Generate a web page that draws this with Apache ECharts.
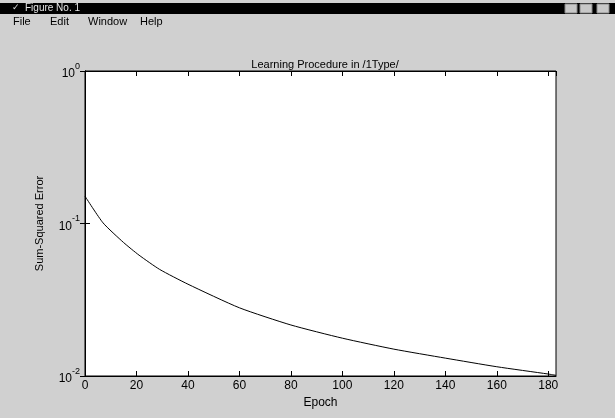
<!DOCTYPE html>
<html>
<head>
<meta charset="utf-8">
<script src="https://cdn.jsdelivr.net/npm/echarts@6/dist/echarts.min.js"></script>
<style>
  html, body { margin: 0; padding: 0; background: #d0d0d0; }
  #main { width: 615px; height: 418px; }
</style>
</head>
<body>
<div id="main"></div>
<script>
// values
var epochs = [0, 7, 15, 21, 29, 40, 60, 80, 100, 120, 140, 160, 180, 183];
var sse = [0.151, 0.101, 0.075, 0.062, 0.050, 0.040, 0.028, 0.0216, 0.0177, 0.0150, 0.0131, 0.0115, 0.0103, 0.0101];
var xTicks = [0, 20, 40, 60, 80, 100, 120, 140, 160, 180];
var menuItems = ['File', 'Edit', 'Window', 'Help'];

var font = 'Liberation Sans';
var points = epochs.map(function (e, i) { return [e, sse[i]]; });

var chart = echarts.init(document.getElementById('main'));

// window chrome (title bar + menu)
var chrome = [
  { type: 'rect', shape: { x: 0, y: 3, width: 615, height: 11 }, style: { fill: '#000' } },
  { type: 'text', left: 12, top: 3, style: { text: '\u2713', fill: '#ddd', font: '9px ' + font } },
  { type: 'text', left: 25, top: 3, style: { text: 'Figure No. 1', fill: '#e6e6e6', font: '10px ' + font } }
];
[565, 580, 597].forEach(function (bx) {
  chrome.push({ type: 'rect', shape: { x: bx, y: 4, width: 12, height: 9 }, style: { fill: '#c8c8c8', stroke: '#888', lineWidth: 1 } });
});
var menuX = [13, 50, 88, 140];
menuItems.forEach(function (m, i) {
  chrome.push({ type: 'text', left: menuX[i], top: 16, style: { text: m, fill: '#000', font: '11px ' + font } });
});

chart.setOption({
  backgroundColor: '#d0d0d0',
  animation: false,
  title: {
    text: 'Learning Procedure in /1Type/',
    left: 320, top: 54, textAlign: 'center',
    textStyle: { fontFamily: font, fontSize: 11, fontWeight: 'normal', color: '#000' }
  },
  graphic: chrome,
  grid: { left: 85, right: 59, top: 71, bottom: 42, show: true, backgroundColor: '#fff', borderColor: '#000', borderWidth: 1 },
  xAxis: [{
    type: 'value', min: 0, max: 183, interval: 20,
    name: 'Epoch', nameLocation: 'middle', nameGap: 18,
    nameTextStyle: { fontFamily: font, fontSize: 12, color: '#000' },
    axisLine: { lineStyle: { color: '#000' } },
    axisTick: { inside: true, length: 5, lineStyle: { color: '#000' } },
    axisLabel: { showMaxLabel: false, margin: 4, fontFamily: font, fontSize: 12, color: '#000' },
    splitLine: { show: false }
  }, {
    type: 'value', min: 0, max: 183, interval: 20, position: 'top',
    axisLine: { lineStyle: { color: '#000' } },
    axisTick: { inside: true, length: 5, lineStyle: { color: '#000' } },
    axisLabel: { show: false },
    splitLine: { show: false }
  }],
  yAxis: [{
    type: 'log', logBase: 10, min: 0.01, max: 1,
    name: 'Sum-Squared Error', nameLocation: 'middle', nameGap: 40,
    nameTextStyle: { fontFamily: font, fontSize: 11, color: '#000' },
    axisLine: { lineStyle: { color: '#000' } },
    axisTick: { inside: true, length: 5, lineStyle: { color: '#000' } },
    axisLabel: {
      margin: 5,
      formatter: function (v) {
        return '{b|10}{s|' + Math.round(Math.log10(v)) + '}';
      },
      rich: {
        b: { fontFamily: font, fontSize: 12, color: '#000', lineHeight: 18, verticalAlign: 'bottom' },
        s: { fontFamily: font, fontSize: 9, color: '#000', lineHeight: 9, verticalAlign: 'top' }
      }
    },
    splitLine: { show: false },
    minorTick: { show: false }
  }, {
    type: 'log', logBase: 10, min: 0.01, max: 1, position: 'right',
    axisLine: { lineStyle: { color: '#000' } },
    axisTick: { inside: true, length: 5, lineStyle: { color: '#000' } },
    axisLabel: { show: false },
    splitLine: { show: false }
  }],
  series: [{
    type: 'line',
    data: points,
    showSymbol: false,
    smooth: 0.2,
    lineStyle: { color: '#000', width: 1 },
    z: 3
  }]
});
</script>
</body>
</html>
